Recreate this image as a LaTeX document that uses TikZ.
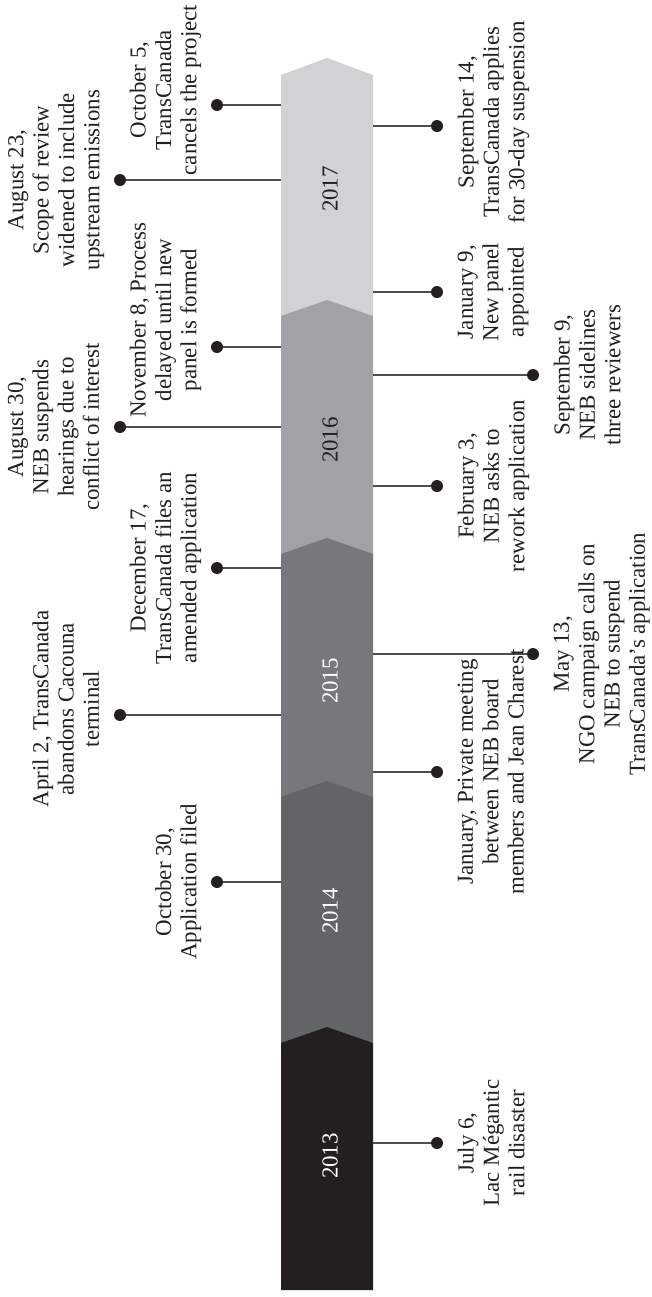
\documentclass[tikz,border=0pt]{standalone}
\usepackage{fontspec}
\setmainfont{Liberation Serif}

\definecolor{ink}{HTML}{231F20}
\definecolor{stemgray}{HTML}{4D4D4D}
\definecolor{y13}{HTML}{231F20}
\definecolor{y14}{HTML}{636466}
\definecolor{y15}{HTML}{77787B}
\definecolor{y16}{HTML}{A1A2A5}
\definecolor{y17}{HTML}{D1D2D4}

\begin{document}
\begin{tikzpicture}[
    x=0.5pt,
    y=-0.5pt,
    dot/.style={
        circle,
        fill=ink,
        inner sep=0pt,
        minimum size=6pt
    },
    stem/.style={
        draw=stemgray,
        line width=0.6pt
    },
    event/.style={
        rotate=90,
        align=center,
        inner sep=3pt,
        text=ink,
        font=\fontsize{11.45}{12.65}\selectfont
    },
    eventleft/.style={
        event,
        anchor=south
    },
    eventright/.style={
        event,
        anchor=north
    },
    year/.style={
        rotate=90,
        inner sep=0pt,
        font=\fontsize{11.45}{12.65}\selectfont
    }
]

    \useasboundingbox (0,0) rectangle (652,1297);

    \fill[y17] (281,75) -- (327,58) -- (373,75) -- (373,316) -- (281,316) -- cycle;
    \fill[y16] (281,316) -- (327,300) -- (373,316) -- (373,554) -- (281,554) -- cycle;
    \fill[y15] (281,554) -- (327,538) -- (373,554) -- (373,797) -- (281,797) -- cycle;
    \fill[y14] (281,797) -- (327,781) -- (373,797) -- (373,1043) -- (281,1043) -- cycle;
    \fill[y13] (281,1043) -- (327,1027) -- (373,1043) -- (373,1290) -- (281,1290) -- cycle;

    \node[year, text=ink] (y2017) at (330,189) {2017};
    \node[year, text=ink] (y2016) at (330,440) {2016};
    \node[year, text=white] (y2015) at (330,681) {2015};
    \node[year, text=white] (y2014) at (330,911) {2014};
    \node[year, text=white] (y2013) at (330,1156) {2013};

    \coordinate (barL) at (281,0);
    \coordinate (barR) at (373,0);

    \node[dot] (oct5) at (217,105) {};
    \node[dot] (aug23) at (120,180) {};
    \node[dot] (nov8) at (217,347) {};
    \node[dot] (aug30) at (120,427) {};
    \node[dot] (dec17) at (217,568) {};
    \node[dot] (apr2) at (120,715) {};
    \node[dot] (oct30) at (217,882) {};

    \node[dot] (sep14) at (437,126) {};
    \node[dot] (jan9) at (437,292) {};
    \node[dot] (sep9) at (533,375) {};
    \node[dot] (feb3) at (437,486) {};
    \node[dot] (may13) at (533,654) {};
    \node[dot] (jan) at (437,772) {};
    \node[dot] (jul6) at (437,1143) {};

    \draw[stem] (oct5) -- (oct5 -| barL);
    \draw[stem] (aug23) -- (aug23 -| barL);
    \draw[stem] (nov8) -- (nov8 -| barL);
    \draw[stem] (aug30) -- (aug30 -| barL);
    \draw[stem] (dec17) -- (dec17 -| barL);
    \draw[stem] (apr2) -- (apr2 -| barL);
    \draw[stem] (oct30) -- (oct30 -| barL);

    \draw[stem] (sep14) -- (sep14 -| barR);
    \draw[stem] (jan9) -- (jan9 -| barR);
    \draw[stem] (sep9) -- (sep9 -| barR);
    \draw[stem] (feb3) -- (feb3 -| barR);
    \draw[stem] (may13) -- (may13 -| barR);
    \draw[stem] (jan) -- (jan -| barR);
    \draw[stem] (jul6) -- (jul6 -| barR);

    \node[eventleft] (oct5-txt) at ([shift={(-3,-15)}]oct5.west) {October 5,\\TransCanada\\cancels the project};
    \node[eventleft] (aug23-txt) at ([shift={(-3,0)}]aug23.west) {August 23,\\Scope of review\\widened to include\\upstream emissions};
    \node[eventleft] (nov8-txt) at ([shift={(-3,-27)}]nov8.west) {November 8, Process\\delayed until new\\panel is formed};
    \node[eventleft] (aug30-txt) at ([shift={(-8,0)}]aug30.west) {August 30,\\NEB suspends\\hearings due to\\conflict of interest};
    \node[eventleft] (dec17-txt) at ([shift={(-3,0)}]dec17.west) {December 17,\\TransCanada files an\\amended application};
    \node[eventleft] (apr2-txt) at ([shift={(-8,-6)}]apr2.west) {April 2, TransCanada\\abandons Cacouna\\terminal};
    \node[eventleft] (oct30-txt) at ([shift={(-3,0)}]oct30.west) {October 30,\\Application filed};

    \node[eventright] (sep14-txt) at ([shift={(8,-4)}]sep14.east) {September 14,\\TransCanada applies\\for 30-day suspension};
    \node[eventright] (jan9-txt) at ([shift={(8,0)}]jan9.east) {January 9,\\New panel\\appointed};
    \node[eventright] (sep9-txt) at ([shift={(8,0)}]sep9.east) {September 9,\\NEB sidelines\\three reviewers};
    \node[eventright] (feb3-txt) at ([shift={(8,0)}]feb3.east) {February 3,\\NEB asks to\\rework application};
    \node[eventright] (may13-txt) at ([shift={(8,0)}]may13.east) {May 13,\\NGO campaign calls on\\NEB to suspend\\TransCanada's application};
    \node[eventright] (jan-txt) at ([shift={(8,0)}]jan.east) {January, Private meeting\\between NEB board\\members and Jean Charest};
    \node[eventright] (jul6-txt) at ([shift={(8,0)}]jul6.east) {July 6,\\Lac Mégantic\\rail disaster};

\end{tikzpicture}
\end{document}
